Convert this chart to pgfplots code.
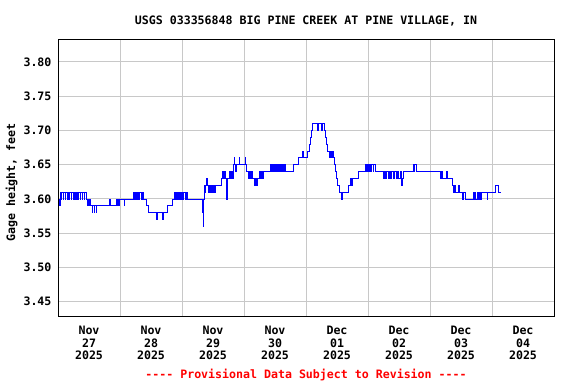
\documentclass[border=0pt]{standalone}
\usepackage{pgfplots}
\pgfplotsset{compat=1.18}
\usepackage{fontspec}
\setmainfont{DejaVu Sans Mono}
\definecolor{gridgray}{RGB}{200,200,200}
\definecolor{usgsblue}{RGB}{0,0,255}
\definecolor{usgsred}{RGB}{255,0,0}
\newcommand{\lblfont}{\fontsize{11.6}{13}\selectfont\bfseries}
\begin{document}
\begin{tikzpicture}
\begin{axis}[
  name=ax,
  width=496pt, height=277pt, scale only axis,
  xmin=0, xmax=8, ymin=3.429, ymax=3.8335,
  axis line style={black, line width=0.9pt},
  xtick={0.5,1.5,2.5,3.5,4.5,5.5,6.5,7.5},
  xticklabels={Nov\\27\\2025,Nov\\28\\2025,Nov\\29\\2025,Nov\\30\\2025,Dec\\01\\2025,Dec\\02\\2025,Dec\\03\\2025,Dec\\04\\2025},
  minor xtick={1,2,3,4,5,6,7},
  xminorgrids=true, xmajorgrids=false,
  ytick={3.45,3.50,3.55,3.60,3.65,3.70,3.75,3.80},
  yticklabels={3.45,3.50,3.55,3.60,3.65,3.70,3.75,3.80},
  ymajorgrids=true,
  major tick length=0pt, minor tick length=0pt,
  grid style={gridgray, line width=0.9pt},
  minor grid style={gridgray, line width=0.9pt},
  xticklabel style={font=\lblfont, align=center, anchor=north, yshift=-6pt},
  yticklabel style={font=\lblfont, anchor=east, xshift=-3pt},
  clip=true,
]
\addplot[const plot, usgsblue, line width=0.65pt] coordinates {
(0.0161,3.60) (0.0242,3.59) (0.0323,3.61) (0.0484,3.60) (0.0565,3.61)
(0.0806,3.60) (0.0887,3.61) (0.1129,3.60) (0.1242,3.61) (0.1452,3.60)
(0.1532,3.61) (0.1694,3.60) (0.1774,3.61) (0.2097,3.60) (0.2177,3.61)
(0.2419,3.60) (0.2516,3.61) (0.2661,3.60) (0.2742,3.61) (0.2984,3.60)
(0.3065,3.61) (0.3226,3.60) (0.3323,3.61) (0.3548,3.60) (0.3629,3.61)
(0.3871,3.60) (0.3952,3.61) (0.4194,3.60) (0.4274,3.61) (0.4516,3.60)
(0.4677,3.59) (0.4774,3.60) (0.4919,3.59) (0.5000,3.60) (0.5161,3.59)
(0.5484,3.58) (0.5581,3.59) (0.5806,3.58) (0.5903,3.59) (0.6129,3.58)
(0.6226,3.59) (0.8226,3.60) (0.8387,3.59) (0.9355,3.60) (0.9452,3.59)
(0.9597,3.60) (0.9677,3.59) (0.9839,3.60) (1.0645,3.59) (1.0742,3.60)
(1.2097,3.61) (1.2258,3.60) (1.2419,3.61) (1.2581,3.60) (1.2742,3.61)
(1.2984,3.60) (1.3065,3.61) (1.3387,3.60) (1.3548,3.61) (1.3710,3.60)
(1.4194,3.59) (1.4516,3.58) (1.5919,3.57) (1.6032,3.58) (1.6887,3.57)
(1.7000,3.58) (1.7581,3.59) (1.8387,3.60) (1.8710,3.61) (1.8871,3.60)
(1.9032,3.61) (1.9194,3.60) (1.9355,3.61) (1.9597,3.60) (1.9677,3.61)
(1.9839,3.60) (2.0000,3.61) (2.0161,3.60) (2.0258,3.61) (2.0484,3.60)
(2.0645,3.61) (2.0806,3.60) (2.3226,3.59) (2.3306,3.58) (2.3387,3.56)
(2.3516,3.60) (2.3597,3.62) (2.3710,3.61) (2.3839,3.62) (2.3952,3.63)
(2.4065,3.62) (2.4194,3.61) (2.4355,3.62) (2.4516,3.61) (2.4677,3.62)
(2.4839,3.61) (2.5000,3.62) (2.5161,3.61) (2.5323,3.62) (2.6290,3.63)
(2.6452,3.64) (2.6613,3.63) (2.6774,3.64) (2.6935,3.63) (2.7226,3.60)
(2.7355,3.63) (2.7581,3.64) (2.7742,3.63) (2.7903,3.64) (2.8065,3.63)
(2.8274,3.65) (2.8387,3.66) (2.8500,3.65) (2.8629,3.64) (2.8758,3.65)
(2.9194,3.66) (2.9306,3.65) (3.0161,3.66) (3.0274,3.65) (3.0403,3.64)
(3.0645,3.63) (3.0806,3.64) (3.0968,3.63) (3.1129,3.64) (3.1290,3.63)
(3.1613,3.62) (3.1774,3.63) (3.2016,3.62) (3.2177,3.63) (3.2419,3.64)
(3.2581,3.63) (3.2742,3.64) (3.2903,3.63) (3.3065,3.64) (3.4194,3.65)
(3.4355,3.64) (3.4516,3.65) (3.4677,3.64) (3.4839,3.65) (3.5000,3.64)
(3.5161,3.65) (3.5323,3.64) (3.5484,3.65) (3.5645,3.64) (3.5806,3.65)
(3.5968,3.64) (3.6210,3.65) (3.6371,3.64) (3.6532,3.65) (3.6694,3.64)
(3.7903,3.65) (3.8710,3.66) (3.9355,3.67) (3.9516,3.66) (4.0161,3.67)
(4.0484,3.68) (4.0645,3.69) (4.0806,3.70) (4.0968,3.71) (4.1774,3.70)
(4.2016,3.71) (4.2419,3.70) (4.2661,3.71) (4.2952,3.70) (4.3065,3.69)
(4.3226,3.68) (4.3468,3.67) (4.3710,3.66) (4.3871,3.67) (4.4032,3.66)
(4.4194,3.67) (4.4355,3.66) (4.4565,3.65) (4.4677,3.64) (4.4839,3.63)
(4.5113,3.62) (4.5371,3.61) (4.5694,3.60) (4.5855,3.61) (4.6855,3.62)
(4.7097,3.63) (4.7258,3.62) (4.7419,3.63) (4.7661,3.63) (4.8387,3.64)
(4.9516,3.65) (4.9677,3.64) (4.9839,3.65) (5.0000,3.64) (5.0161,3.65)
(5.0323,3.64) (5.0484,3.65) (5.0806,3.64) (5.0887,3.65) (5.1129,3.64)
(5.2419,3.63) (5.2581,3.64) (5.2823,3.63) (5.2984,3.64) (5.3226,3.63)
(5.3387,3.64) (5.3548,3.63) (5.3710,3.64) (5.4032,3.63) (5.4194,3.64)
(5.4516,3.63) (5.4677,3.64) (5.4839,3.63) (5.5000,3.63) (5.5161,3.64)
(5.5403,3.62) (5.5532,3.63) (5.5645,3.64) (5.7258,3.65) (5.7419,3.64)
(5.7516,3.65) (5.7742,3.64) (6.1613,3.63) (6.1774,3.64) (6.1935,3.63)
(6.2581,3.64) (6.2742,3.63) (6.3548,3.62) (6.3710,3.61) (6.3871,3.62)
(6.4032,3.61) (6.4597,3.62) (6.4758,3.61) (6.5161,3.60) (6.5403,3.61)
(6.5645,3.60) (6.6935,3.61) (6.7097,3.60) (6.7194,3.61) (6.7339,3.60)
(6.7581,3.61) (6.7742,3.60) (6.7903,3.61) (6.8065,3.60) (6.8226,3.61)
(6.9194,3.60) (6.9306,3.61) (7.0484,3.62) (7.0968,3.61) (7.1452,3.61)
};
\end{axis}
\node[font=\lblfont, anchor=base] at ([yshift=15pt]ax.north) {USGS 033356848 BIG PINE CREEK AT PINE VILLAGE, IN};
\node[font=\lblfont, rotate=90, anchor=center] at ([shift={(-46.5pt,-5pt)}]ax.west) {Gage height, feet};
\node[font=\lblfont, text=usgsred, anchor=base] at ([yshift=-62pt]ax.south) {-{}-{}-{}- Provisional Data Subject to Revision -{}-{}-{}-};
\pgfresetboundingbox
\path[use as bounding box] ([shift={(-58pt,-68pt)}]ax.south west) rectangle ([shift={(22pt,39pt)}]ax.north east);
\end{tikzpicture}
\end{document}
